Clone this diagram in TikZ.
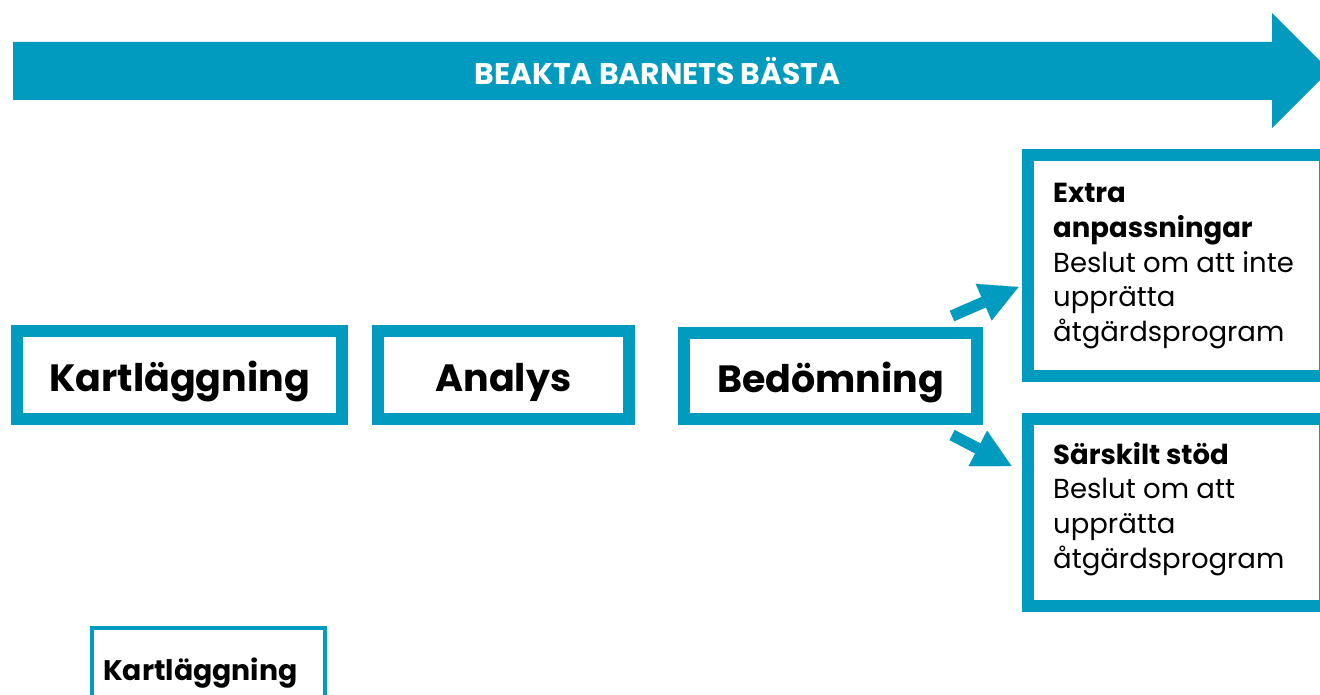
\documentclass[tikz,border=0pt]{standalone}
\usepackage{fontspec}
\setmainfont{Poppins}
\usetikzlibrary{arrows.meta,calc}
\definecolor{teal}{RGB}{0,155,191}
\tikzset{
  bigbox/.style={draw=teal, line width=12pt, fill=white, inner sep=0pt, text height=32pt, text depth=0pt,
     font=\fontsize{38}{40}\selectfont\bfseries},
  sidebox/.style={draw=teal, line width=12pt, fill=white, inner sep=0pt, minimum width=296pt},
  sidetext/.style={anchor=north west, inner sep=0pt, align=left, font=\fontsize{27.5}{34.75}\selectfont},
  conn/.style={draw=teal, line width=11.5pt, -{Triangle[length=38pt,width=40pt,line width=0.1pt]}},
}
\begin{document}
\begin{tikzpicture}[x=1pt,y=-1pt]
\useasboundingbox (0,0) rectangle (1320,695);
\clip (0,0) rectangle (1320,695);
% big arrow
\fill[teal] (13,42) -- (1272,42) -- (1272,13) -- (1329.5,70.5) -- (1272,128) -- (1272,100) -- (13,100) -- cycle;
\node[text=white, font=\fontsize{29.8}{31}\selectfont\bfseries, inner sep=0pt, anchor=base] (title) at (657.5,85) {BEAKTA BARNETS BÄSTA};
% main boxes
\node[bigbox, minimum width=325pt, minimum height=88pt] (kart) at (179.5,375) {Kartläggning};
\node[bigbox, minimum width=251pt, minimum height=88pt] (ana) at (503.5,375) {Analys};
\node[bigbox, minimum width=293pt, minimum height=86pt] (bed) at (830.5,376) {Bedömning};
% side boxes
\node[sidebox, minimum width=297pt, minimum height=221pt] (ex) at (1176.5,265.5) {};
\node[sidebox, minimum width=297pt, minimum height=187pt] (sar) at (1176.5,512.5) {};
\node[sidetext] (extxt) at (1053,183) {\textbf{Extra}\\\textbf{anpassningar}\\Beslut om att inte\\upprätta\\åtgärdsprogram};
\node[sidetext] (sartxt) at (1053,442) {\textbf{Särskilt stöd}\\Beslut om att\\upprätta\\åtgärdsprogram};
% connectors
\draw[conn] ($(bed.north east)+(-31,-11)$) -- ($(ex.west)+(-3.5,21.5)$);
\draw[conn] ($(bed.south east)+(-31,10)$) -- ($(sar.west)+(-10.5,-46.5)$);
% bottom box
\node[draw=teal, line width=4pt, fill=white, minimum width=233pt, minimum height=112pt, inner sep=0pt] (kart2) at (208.5,684) {};
\node[anchor=base west, inner sep=0pt, font=\fontsize{28.3}{30}\selectfont\bfseries] (kart2txt) at (103,680) {Kartläggning};
\end{tikzpicture}
\end{document}
